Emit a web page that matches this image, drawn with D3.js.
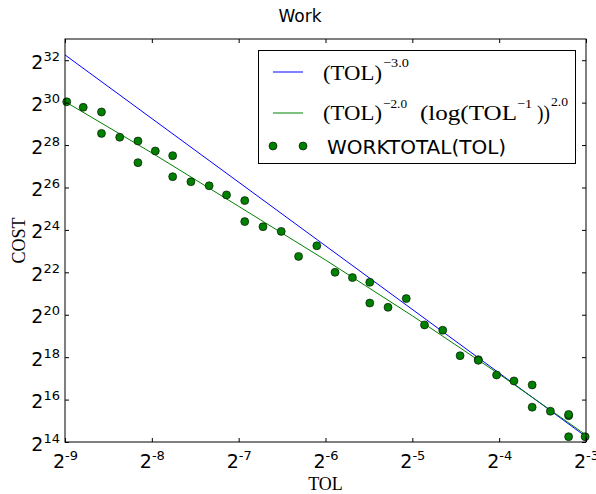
<!DOCTYPE html>
<html>
<head>
<meta charset="utf-8">
<script src="https://cdn.jsdelivr.net/npm/d3@7"></script>
<style>
  body { margin: 0; background: #fff; }
  svg { display: block; }
</style>
</head>
<body>
<div id="chart"></div>
<script>
// log2 values
const tolExp = [-8.98, -8.79, -8.58, -8.58, -8.37, -8.16, -8.16, -7.96, -7.76, -7.76,
  -7.55, -7.34, -7.14, -6.93, -6.93, -6.72, -6.51, -6.31, -6.10, -5.89,
  -5.69, -5.49, -5.49, -5.28, -5.07, -4.86, -4.65, -4.45, -4.24, -4.24,
  -4.03, -3.83, -3.62, -3.62, -3.41, -3.20, -3.20, -3.20, -3.01];
const workExp = [30.04, 29.78, 29.56, 28.55, 28.37, 28.19, 27.17, 27.72, 27.50, 26.51,
  26.27, 26.08, 25.65, 25.38, 24.39, 24.15, 23.93, 22.75, 23.25, 22.00,
  21.75, 21.53, 20.55, 20.35, 20.76, 19.52, 19.27, 18.07, 17.88, 17.85,
  17.16, 16.88, 16.69, 15.64, 15.45, 15.24, 15.30, 14.25, 14.25];

const rateTolExp = [-9, -3];
const rateWorkExp = [32.25, 14.25];

const logTolExp = [-9, -8, -7, -6, -5, -4, -3];
const logWorkExp = [30.05, 27.63, 25.11, 22.58, 19.95, 17.2, 14.33];

const xTickExp = [-9, -8, -7, -6, -5, -4, -3];
const yTickExp = [14, 16, 18, 20, 22, 24, 26, 28, 30, 32];

const w = 596, h = 494;
const padL = 65, padR = 586, padT = 39, padB = 442;

const x = d3.scaleLog().base(2).domain([2 ** -9, 2 ** -3]).range([padL, padR]);
const y = d3.scaleLog().base(2).domain([2 ** 14, 2 ** 33]).range([padB, padT]);

const svg = d3.select('#chart').append('svg')
  .attr('width', w)
  .attr('height', h)
  .style('font-family', '"DejaVu Sans", sans-serif');

// lines
const line = d3.line()
  .x(d => x(2 ** d[0]))
  .y(d => y(2 ** d[1]));

svg.append('path')
  .datum(d3.zip(rateTolExp, rateWorkExp))
  .attr('d', line)
  .attr('fill', 'none')
  .attr('stroke', '#0000ff')
  .attr('stroke-width', 1);

svg.append('path')
  .datum(d3.zip(logTolExp, logWorkExp))
  .attr('d', line)
  .attr('fill', 'none')
  .attr('stroke', '#008000')
  .attr('stroke-width', 1);

svg.selectAll('circle.dot')
  .data(d3.zip(tolExp, workExp))
  .enter()
  .append('circle')
  .attr('class', 'dot')
  .attr('cx', d => x(2 ** d[0]))
  .attr('cy', d => y(2 ** d[1]))
  .attr('r', 4)
  .attr('fill', '#008000')
  .attr('stroke', '#000')
  .attr('stroke-width', 0.6);

// axes, ticks pointing in
const xTicks = xTickExp.map(e => 2 ** e);
const yTicks = yTickExp.map(e => 2 ** e);

function powLabel(sel, exps, base, sup, dySup) {
  sel.selectAll('.tick text').each(function (d, i) {
    const t = d3.select(this).text('').attr('dy', null);
    t.append('tspan').style('font-size', base + 'px').text('2');
    t.append('tspan').style('font-size', sup + 'px').attr('dy', dySup).text(exps[i]);
  });
}

const xAxis = svg.append('g')
  .attr('transform', `translate(0,${padB})`)
  .call(d3.axisBottom(x).tickValues(xTicks).tickSize(-4).tickPadding(0));
xAxis.selectAll('.tick text').attr('y', 26);
powLabel(xAxis, xTickExp, 19, 13, -8);

const yAxis = svg.append('g')
  .attr('transform', `translate(${padL},0)`)
  .call(d3.axisLeft(y).tickValues(yTicks).tickSize(-4).tickPadding(5));
yAxis.selectAll('.tick text').attr('y', 8);
powLabel(yAxis, yTickExp, 19, 13, -8);

svg.append('g')
  .attr('transform', `translate(0,${padT})`)
  .call(d3.axisTop(x).tickValues(xTicks).tickSize(-4).tickFormat(''));
svg.append('g')
  .attr('transform', `translate(${padR},0)`)
  .call(d3.axisRight(y).tickValues(yTicks).tickSize(-4).tickFormat(''));

svg.selectAll('.domain').remove();
svg.selectAll('.tick line').attr('stroke', '#000');
svg.selectAll('.tick text').attr('fill', '#000').style('font-family', '"DejaVu Sans", sans-serif');

svg.append('rect')
  .attr('x', padL).attr('y', padT)
  .attr('width', padR - padL).attr('height', padB - padT)
  .attr('fill', 'none')
  .attr('stroke', '#000')
  .attr('stroke-width', 1);

// titles
svg.append('text')
  .attr('x', 300).attr('y', 22)
  .attr('text-anchor', 'middle')
  .style('font-size', '17px')
  .text('Work');

svg.append('text')
  .attr('x', (padL + padR) / 2).attr('y', 490)
  .attr('text-anchor', 'middle')
  .style('font-family', '"Liberation Serif", serif')
  .style('font-size', '18px')
  .text('TOL');

svg.append('text')
  .attr('transform', `translate(25,${(padT + padB) / 2}) rotate(-90)`)
  .attr('text-anchor', 'middle')
  .style('font-family', '"Liberation Serif", serif')
  .style('font-size', '18px')
  .text('COST');

// legend
const lg = svg.append('g');
lg.append('rect')
  .attr('x', 258.5).attr('y', 50.5)
  .attr('width', 317).attr('height', 113)
  .attr('fill', '#fff')
  .attr('stroke', '#000')
  .attr('stroke-width', 1);

lg.append('line').attr('x1', 273).attr('x2', 303).attr('y1', 72).attr('y2', 72)
  .attr('stroke', '#0000ff');
lg.append('line').attr('x1', 273).attr('x2', 303).attr('y1', 113).attr('y2', 113)
  .attr('stroke', '#008000');
lg.selectAll('circle')
  .data([273, 303])
  .enter()
  .append('circle')
  .attr('cx', d => d).attr('cy', 146).attr('r', 4)
  .attr('fill', '#008000').attr('stroke', '#000').attr('stroke-width', 0.6);

// math pieces of the legend: [text, x, baseline, width, font size]
const mathPieces = [
  ['(TOL)', 323, 80, 59, 20],
  ['\u22123.0', 383, 67, 26, 13],
  ['(TOL)', 323, 120, 59, 20],
  ['\u22122.0', 383, 108, 24, 13],
  ['(log(TOL', 420, 120, 97, 20],
  ['\u22121', 517, 108, 15, 13],
  ['))', 537, 120, 13, 20],
  ['2.0', 551, 106, 17, 13]
];
lg.selectAll('text.math')
  .data(mathPieces)
  .enter()
  .append('text')
  .attr('class', 'math')
  .attr('x', d => d[1])
  .attr('y', d => d[2])
  .attr('textLength', d => d[3])
  .attr('lengthAdjust', 'spacingAndGlyphs')
  .style('font-family', '"Liberation Serif", serif')
  .style('font-size', d => d[4] + 'px')
  .text(d => d[0]);

lg.append('text')
  .attr('x', 327).attr('y', 154)
  .style('font-size', '20px')
  .text('WORKTOTAL(TOL)');
</script>
</body>
</html>
